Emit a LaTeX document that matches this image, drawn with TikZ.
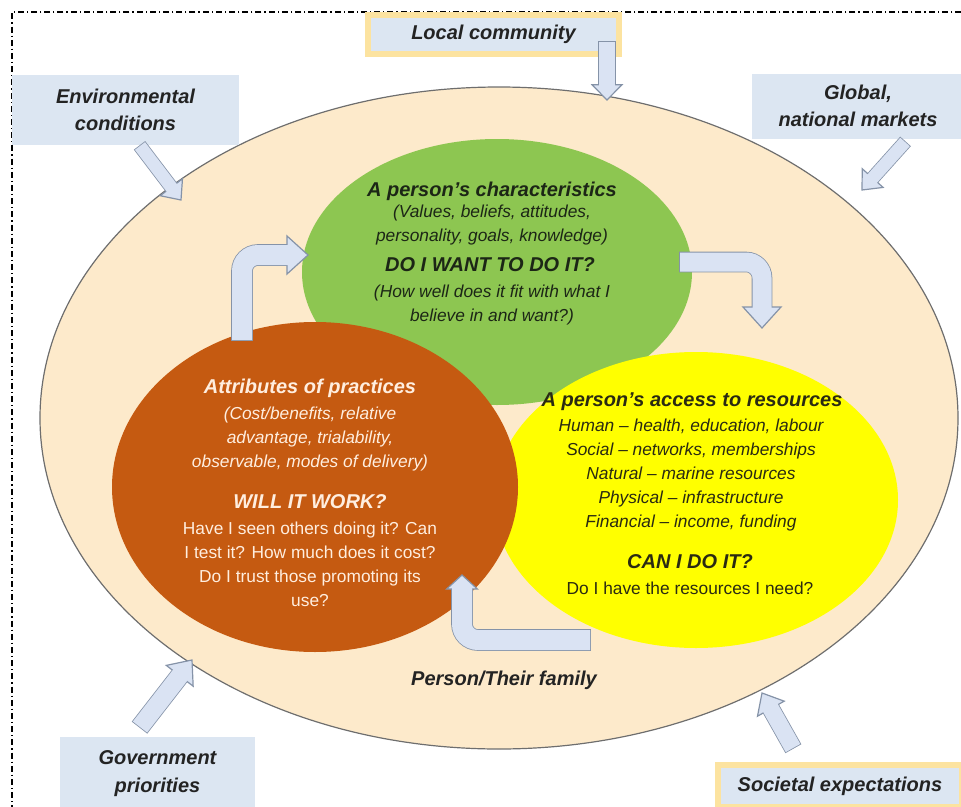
\documentclass[tikz,border=0pt]{standalone}
\usepackage{fontspec}
\setmainfont{Liberation Sans}
\usetikzlibrary{calc,shapes.geometric}

\definecolor{peach}{HTML}{FDEACB}
\definecolor{ringedge}{HTML}{6E6E6E}
\definecolor{leafgreen}{HTML}{8DC651}
\definecolor{rust}{HTML}{C55A11}
\definecolor{sun}{HTML}{FFFF00}
\definecolor{boxblue}{HTML}{DCE6F2}
\definecolor{gold}{HTML}{FCE3A0}
\definecolor{arrowfill}{HTML}{DAE3F3}
\definecolor{arrowedge}{HTML}{8593A8}
\definecolor{darktext}{HTML}{232323}
\definecolor{greentext}{HTML}{1C2616}
\definecolor{paletext}{HTML}{FFEEDF}
\definecolor{olivetext}{HTML}{2A2A12}

% block arrow: #1 shaft width, #2 head half-width, #3 shaft path, #4 head base, #5 tip
\newcommand\blockarrow[5]{%
  \draw[arrowedge, line width=#1+1.2pt, shorten <=-0.6pt] #3;
  \filldraw[draw=arrowedge, fill=arrowfill, line width=0.9pt, line join=miter]
    ($(#4)!#2!90:(#5)$) -- (#5) -- ($(#4)!#2!-90:(#5)$) -- cycle;
  \draw[arrowfill, line width=#1, shorten >=-1.5pt] #3;
}
% straight block arrow: #1 shaft width, #2 head half-width, #3 head length, #4 tail, #5 tip
\newcommand\straightblock[5]{%
  \coordinate (hb) at ($(#5)!#3!(#4)$);
  \blockarrow{#1}{#2}{(#4) -- (hb)}{hb}{#5}
}

\begin{document}
\begin{tikzpicture}[x=0.75pt,y=-0.75pt,
  blob/.style={ellipse, inner sep=0pt},
  headtext/.style={font=\fontsize{15pt}{18pt}\selectfont\bfseries\itshape, align=center, inner sep=0pt},
  subtext/.style={font=\fontsize{13pt}{18pt}\selectfont, align=center, inner sep=0pt},
  subital/.style={font=\fontsize{13pt}{18pt}\selectfont\itshape, align=center, inner sep=0pt},
  labelbox/.style={fill=boxblue, inner sep=0pt, align=center, text=darktext,
    font=\fontsize{15pt}{20.5pt}\selectfont\bfseries\itshape},
  goldbox/.style={labelbox, draw=gold, line width=4.5pt},
  framedash/.style={line width=1.1pt, dash pattern=on 4.5pt off 2.2pt on 1pt off 2.2pt}
]
\useasboundingbox (0,0) rectangle (961,807);

% outer frame (top and left edges)
\draw[framedash] (961,12) -- (12,12) -- (12,807);

% outer context ring and the three overlapping domains
\node[blob, draw=ringedge, fill=peach, line width=0.9pt,
  minimum width=688.5pt, minimum height=496.5pt] (ring) at (499,418) {};
\node[blob, fill=leafgreen, minimum width=292.5pt, minimum height=199.5pt] (green) at (497,272) {};
\node[blob, fill=sun, minimum width=303pt, minimum height=222pt] (yellow) at (696,500) {};
\node[blob, fill=rust, minimum width=304.5pt, minimum height=247.5pt] (orange) at (315,487) {};

% external influence labels
\node[goldbox, minimum width=188.25pt, minimum height=29.25pt] (local) at (493.5,34.5) {Local community};
\node[labelbox, minimum width=170.25pt, minimum height=52.5pt] (env) at (125.5,110) {Environmental\\conditions};
\node[labelbox, minimum width=159pt, minimum height=48.75pt] (global) at (858,106) {Global,\\national markets};
\node[labelbox, minimum width=146.25pt, minimum height=55pt] (gov) at (157.5,773.5) {Government\\priorities};
\node[goldbox, minimum width=183pt, minimum height=31.5pt] (society) at (840,786) {Societal expectations};

% straight influence arrows
\coordinate (lc-tail) at (607,42);  \coordinate (lc-tip) at (607,100);
\coordinate (en-tail) at (140,146); \coordinate (en-tip) at (181,200);
\coordinate (gl-tail) at (905,142); \coordinate (gl-tip) at (862,190);
\coordinate (gv-tail) at (140,727); \coordinate (gv-tip) at (192,660);
\coordinate (so-tail) at (793,748); \coordinate (so-tip) at (762,693);
\straightblock{12.5pt}{11.25pt}{11.5pt}{lc-tail}{lc-tip}
\straightblock{9.5pt}{10.5pt}{12pt}{en-tail}{en-tip}
\straightblock{9.5pt}{10.5pt}{12pt}{gl-tail}{gl-tip}
\straightblock{13.5pt}{12.75pt}{15pt}{gv-tail}{gv-tip}
\straightblock{12.5pt}{11.5pt}{13.5pt}{so-tail}{so-tip}

% bent cycle arrows
\coordinate (ca-tail) at (242,340); \coordinate (ca-bend) at (242,255);
\coordinate (ca-base) at (287,255); \coordinate (ca-tip) at (308,255);
\blockarrow{15pt}{14.25pt}{(ca-tail) [rounded corners=12pt] -- (ca-bend) -- (ca-base)}{ca-base}{ca-tip}
\coordinate (cb-tail) at (680,262); \coordinate (cb-bend) at (762,262);
\coordinate (cb-base) at (762,307); \coordinate (cb-tip) at (762,328);
\blockarrow{14.25pt}{14.25pt}{(cb-tail) [rounded corners=12pt] -- (cb-bend) -- (cb-base)}{cb-base}{cb-tip}
\coordinate (cc-tail) at (590,640); \coordinate (cc-bend) at (462,640);
\coordinate (cc-base) at (462,589); \coordinate (cc-tip) at (462,575);
\blockarrow{15pt}{11.5pt}{(cc-tail) [rounded corners=12pt] -- (cc-bend) -- (cc-base)}{cc-base}{cc-tip}

% person's characteristics
\node[headtext, text=greentext] (g-title) at (492,191) {A person’s characteristics};
\node[subital, text=greentext] (g-list) at (492,225) {(Values, beliefs, attitudes,\\personality, goals, knowledge)};
\node[headtext, text=greentext] (g-q) at (490,265) {DO I WANT TO DO IT?};
\node[subital, text=greentext] (g-why) at (492,305) {(How well does it fit with what I\\believe in and want?)};

% attributes of practices
\node[headtext, text=paletext] (o-title) at (310,388) {Attributes of practices};
\node[subital, text=paletext] (o-list) at (310,439) {(Cost/benefits, relative\\advantage, trialability,\\observable, modes of delivery)};
\node[headtext, text=paletext] (o-q) at (310,502) {WILL IT WORK?};
\node[subtext, text=paletext] (o-why) at (310,564) {Have I seen others doing it? Can\\I test it? How much does it cost?\\Do I trust those promoting its\\use?};

% access to resources
\node[headtext, text=olivetext] (y-title) at (692,402) {A person’s access to resources};
\node[subital, text=olivetext] (y-list) at (691,475.5) {Human – health, education, labour\\Social – networks, memberships\\Natural – marine resources\\Physical – infrastructure\\Financial – income, funding};
\node[headtext, text=olivetext] (y-q) at (690,562) {CAN I DO IT?};
\node[subtext, text=olivetext] (y-why) at (690,588) {Do I have the resources I need?};

\node[headtext, text=darktext] (family) at (504,680) {Person/Their family};
\end{tikzpicture}
\end{document}
